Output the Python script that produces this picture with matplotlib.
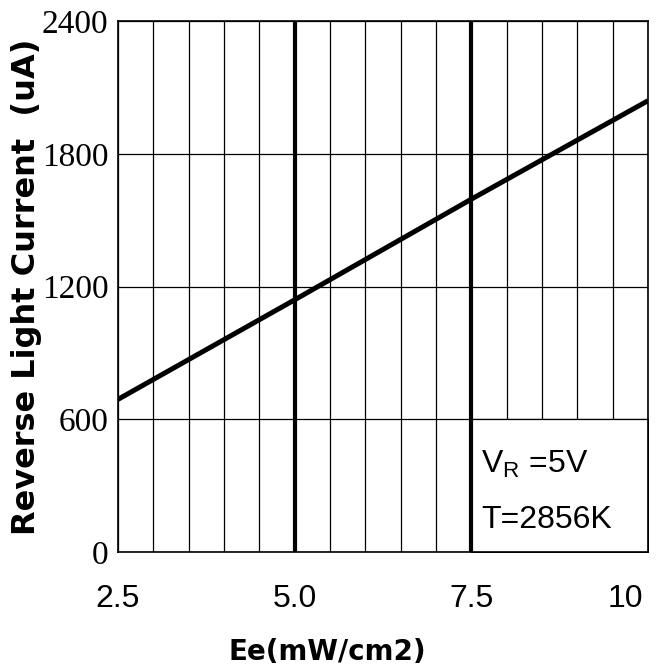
import matplotlib
matplotlib.use("Agg")
import matplotlib.pyplot as plt
from matplotlib.ticker import MultipleLocator, FixedLocator
from matplotlib.transforms import ScaledTranslation

# Reverse light current vs irradiance
ee = [2.5, 5.0, 7.5, 10.0]
current = [690, 1140, 1595, 2040]

x_ticks = [2.5, 5.0, 7.5, 10.0]
x_tick_labels = ["2.5", "5.0", "7.5", "10"]
y_ticks = [0, 600, 1200, 1800, 2400]
y_tick_labels = ["0", "600", "1200", "1800", "2400"]
heavy_lines = [5.0, 7.5]

plt.rcParams["mathtext.fontset"] = "custom"
plt.rcParams["mathtext.rm"] = "Liberation Sans"

fig = plt.figure(figsize=(6.57, 6.67), dpi=100)
ax = fig.add_axes([0.1796, 0.1724, 0.8067, 0.796])

ax.set_xlim(2.5, 10)
ax.set_ylim(0, 2400)

# grid: thin lines every 0.5 on x, every 600 on y
ax.xaxis.set_minor_locator(MultipleLocator(0.5))
ax.xaxis.set_major_locator(FixedLocator(x_ticks))
ax.yaxis.set_major_locator(FixedLocator(y_ticks))
ax.grid(which="both", axis="x", color="black", lw=0.9, zorder=1)
ax.grid(which="major", axis="y", color="black", lw=0.9, zorder=1)
ax.set_axisbelow(True)

# white box for the conditions text
ax.fill_between([7.5, 10], 0, 600, facecolor="white", edgecolor="black",
                lw=0.9, zorder=2)

for xv in heavy_lines:
    ax.axvline(xv, color="black", lw=3.0, zorder=3)

ax.plot(ee, current, color="black", lw=3.6, zorder=4, solid_capstyle="butt")

ax.set_xticklabels(x_tick_labels, fontsize=23, family="Liberation Sans")
ax.set_yticklabels(y_tick_labels, fontsize=24, family="Liberation Serif")
ax.tick_params(which="both", length=0)
ax.tick_params(axis="x", pad=23)
ax.tick_params(axis="y", pad=7)

# last x label sits just inside the right edge
last = ax.get_xticklabels()[-1]
last.set_transform(last.get_transform() + ScaledTranslation(-0.23, 0, fig.dpi_scale_trans))

for s in ax.spines.values():
    s.set_linewidth(1.2)
    s.set_zorder(5)

ax.text(7.64, 357, r"V$_{\mathrm{R}}$ =5V", fontsize=23, family="Liberation Sans",
        va="baseline", ha="left", zorder=6)
ax.text(7.64, 108, "T=2856K", fontsize=23, family="Liberation Sans",
        va="baseline", ha="left", zorder=6)

fig.text(27 / 657, 1 - 287 / 667, "Reverse Light Current  (uA)", rotation=90,
         ha="center", va="center", fontsize=23, fontweight="heavy",
         family="DejaVu Sans")
fig.text(327 / 657, 1 - 652 / 667, "Ee(mW/cm2)", ha="center", va="center",
         fontsize=20, fontweight="heavy", family="DejaVu Sans")

fig.savefig("out.png", dpi=100)
